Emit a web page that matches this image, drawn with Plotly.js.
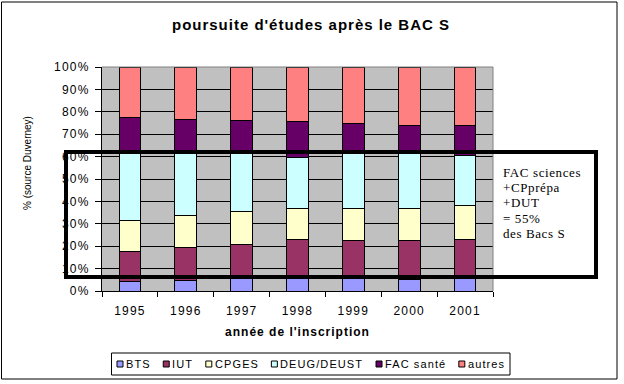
<!DOCTYPE html>
<html>
<head>
<meta charset="utf-8">
<script src="https://cdn.plot.ly/plotly-3.0.1.min.js"></script>
<style>
html,body{margin:0;padding:0;background:#fff;}
#chart{width:624px;height:384px;}
#chart .xtick text, #chart .ytick text { letter-spacing: 1.2px; }
#chart .xtitle { letter-spacing: 1px; }
</style>
</head>
<body>
<div id="chart"></div>
<script>
// ---- data (percent of Bac S students) ----
const years = ['1995', '1996', '1997', '1998', '1999', '2000', '2001'];
const seriesNames = ['BTS', 'IUT', 'CPGES', 'DEUG/DEUST', 'FAC santé', 'autres'];
const bts      = [4.3, 4.8, 5.4, 5.6, 5.6, 5.0, 5.5];
const iut      = [13.4, 14.7, 15.4, 17.5, 17.0, 17.6, 17.6];
const cpges    = [13.9, 14.3, 14.8, 13.8, 14.3, 14.3, 15.2];
const deug     = [30.4, 28.2, 26.4, 22.8, 25.1, 24.8, 22.1];
const facSante = [15.5, 14.6, 14.2, 16.1, 12.9, 12.3, 13.6];
const autres   = [22.5, 23.4, 23.8, 24.2, 25.1, 26.0, 26.0];
const yTickVals = [0, 10, 20, 30, 40, 50, 60, 70, 80, 90, 100];
const noteLines = ['FAC sciences', '+CPprépa', '+DUT', '= 55%', 'des Bacs S'];
const titleText = "poursuite d'études après le BAC S";

const seriesValues = [bts, iut, cpges, deug, facSante, autres];
const colors = ['#9999FF', '#993366', '#FFFFCC', '#CCFFFF', '#660066', '#FF8080'];

// ---- plot geometry (pixels) ----
const W = 624, H = 384;
const L = 102, R = 493, T = 67, B = 291;
const px = p => (p - L) / (R - L);
const py = p => (B - p) / (B - T);
const FONT = 'Liberation Sans, Arial, sans-serif';
const SERIF = 'Liberation Serif, Times New Roman, serif';

// text measuring helper
const ctx = document.createElement('canvas').getContext('2d');
function tw(str, font) { ctx.font = font; return ctx.measureText(str).width; }

// title letter-spacing so that it spans like the reference (x 172 -> 449)
const titleLeft = 172, titleRight = 449;
const titleSpacing = Math.max(0, (titleRight - titleLeft - tw(titleText, 'bold 15px "Liberation Sans"')) / (titleText.length - 1));

const traces = seriesValues.map((vals, i) => ({
  type: 'bar',
  name: seriesNames[i],
  x: years,
  y: vals,
  marker: { color: colors[i], line: { color: '#000', width: 1 } },
  showlegend: false,
  hoverinfo: 'name+y'
}));

const shapes = [];
const annotations = [];

// plot-area top & right border (grey)
shapes.push({ type: 'line', xref: 'paper', yref: 'paper', x0: 0, x1: 1, y0: 1, y1: 1, line: { color: '#808080', width: 1 } });
shapes.push({ type: 'line', xref: 'paper', yref: 'paper', x0: 1, x1: 1, y0: 0, y1: 1, line: { color: '#808080', width: 1 } });

// outer chart border
shapes.push({ type: 'rect', xref: 'paper', yref: 'paper', x0: px(1.5), x1: px(617), y0: py(379), y1: py(2), line: { color: '#000', width: 1 }, fillcolor: 'rgba(0,0,0,0)' });

// highlight box
shapes.push({ type: 'rect', xref: 'paper', yref: 'paper', x0: px(66), x1: px(596), y0: py(277), y1: py(152), line: { color: '#000', width: 4 }, fillcolor: 'rgba(0,0,0,0)', layer: 'above' });

// note text inside box
const noteStart = annotations.length;
noteLines.forEach((t, i) => {
  annotations.push({ xref: 'paper', yref: 'paper', x: px(503), y: py(172 + i * 15.4), xanchor: 'left', yanchor: 'middle', align: 'left', borderpad: 0, borderwidth: 0, showarrow: false, text: t, font: { family: SERIF, size: 13, color: '#000' } });
});

// y-axis title
annotations.push({ xref: 'paper', yref: 'paper', x: px(27), y: py(163), xanchor: 'center', yanchor: 'middle', showarrow: false, textangle: -90, text: '% (source Duverney)', font: { family: FONT, size: 10, color: '#000' } });

// legend (manual, Excel-like)
const legSpacing = 1.1, legFont = 11;
const legW = seriesNames.map(n => tw(n, legFont + 'px "Liberation Sans"') + legSpacing * n.length);
const SQ = 6, SQGAP = 3, legL = 117, legR = 505;
const legGap = (legR - legL - legW.reduce((a, b) => a + b, 0) - seriesNames.length * (SQ + SQGAP)) / (seriesNames.length - 1);
shapes.push({ type: 'rect', xref: 'paper', yref: 'paper', x0: px(111.5), x1: px(510), y0: py(375), y1: py(353), line: { color: '#000', width: 1 }, fillcolor: '#fff' });
const legStart = annotations.length;
let lx = legL;
seriesNames.forEach((n, i) => {
  shapes.push({ type: 'rect', xref: 'paper', yref: 'paper', x0: px(lx), x1: px(lx + SQ), y0: py(367), y1: py(361), line: { color: '#000', width: 1 }, fillcolor: colors[i] });
  annotations.push({ xref: 'paper', yref: 'paper', x: px(lx + SQ + SQGAP), y: py(363.5), xanchor: 'left', yanchor: 'middle', align: 'left', borderpad: 0, borderwidth: 0, showarrow: false, text: n, font: { family: FONT, size: legFont, color: '#000' } });
  lx += SQ + SQGAP + legW[i] + legGap;
});

const layout = {
  width: W, height: H,
  margin: { l: L, r: W - R, t: T, b: H - B, pad: 0 },
  paper_bgcolor: '#fff',
  plot_bgcolor: '#C0C0C0',
  barmode: 'stack',
  bargap: 0.61,
  title: { text: titleText, x: titleLeft / W, xref: 'container', y: 1 - 25 / H, yref: 'container', xanchor: 'left', yanchor: 'middle', font: { family: FONT, size: 15, color: '#000', weight: 'bold' } },
  xaxis: {
    type: 'category',
    tickson: 'boundaries',
    ticks: 'outside', ticklen: 5, tickcolor: '#000', tickwidth: 1,
    showline: true, linecolor: '#000', linewidth: 1,
    showgrid: false,
    tickfont: { family: FONT, size: 12, color: '#000' },
    ticklabelstandoff: 9,
    title: { text: "année de l'inscription", font: { family: FONT, size: 12, color: '#000', weight: 'bold' }, standoff: 10 },
    fixedrange: true
  },
  yaxis: {
    range: [0, 100],
    tickvals: yTickVals,
    ticktext: yTickVals.map(v => v + '%'),
    ticks: 'outside', ticklen: 6, tickcolor: '#000', tickwidth: 1,
    showline: true, linecolor: '#000', linewidth: 1,
    showgrid: true, gridcolor: '#000', gridwidth: 1,
    zeroline: false,
    tickfont: { family: FONT, size: 12, color: '#000' },
    ticklabelstandoff: 3,
    fixedrange: true
  },
  shapes: shapes,
  annotations: annotations,
  showlegend: false
};

Plotly.newPlot('chart', traces, layout, { displayModeBar: false, staticPlot: true }).then(gd => {
  const t = gd.querySelector('.gtitle');
  if (t) t.style.letterSpacing = titleSpacing + 'px';
  const anns = gd.querySelectorAll('.annotation-text');
  for (let k = legStart; k < legStart + seriesNames.length; k++) {
    if (anns[k]) anns[k].style.letterSpacing = legSpacing + 'px';
  }
  for (let k = noteStart; k < noteStart + noteLines.length; k++) {
    if (anns[k]) anns[k].style.letterSpacing = '0.6px';
  }
});
</script>
</body>
</html>
